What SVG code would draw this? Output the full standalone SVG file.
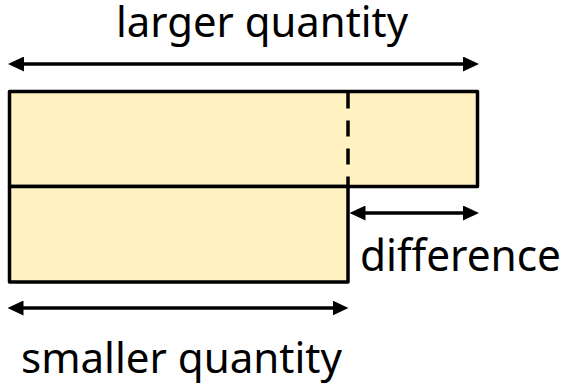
<svg xmlns="http://www.w3.org/2000/svg" width="577" height="384" viewBox="0 0 577 384">
  <defs>
    <marker id="ah" markerUnits="userSpaceOnUse" markerWidth="16" markerHeight="15" refX="8" refY="7.5" orient="auto-start-reverse" viewBox="0 0 16 15">
      <path d="M0,0 L16,7.5 L0,15 Z" fill="#000"/>
    </marker>
  </defs>
  <style>
    .bar { fill: #fff2c0; stroke: #000; stroke-width: 3.5; stroke-linejoin: round; }
    .arrow { stroke: #000; stroke-width: 3.5; fill: none; marker-start: url(#ah); marker-end: url(#ah); }
    .lbl { font-family: "Noto Sans", "Open Sans", sans-serif; font-size: 41px; fill: #000; }
  </style>
  <g id="larger-bar">
    <rect class="bar" x="9.5" y="91.5" width="468" height="95"/>
    <line x1="348" y1="92.5" x2="348" y2="186.5" stroke="#000" stroke-width="3.5" stroke-dasharray="16 12"/>
  </g>
  <g id="smaller-bar">
    <rect class="bar" x="9.5" y="186.5" width="338.5" height="95.5"/>
  </g>
  <g id="connectors">
    <line class="arrow" x1="16" y1="64" x2="471" y2="64"/>
    <line class="arrow" x1="357.5" y1="213" x2="471" y2="213"/>
    <line class="arrow" x1="15.5" y1="308" x2="340.5" y2="308"/>
  </g>
  <g id="labels">
    <text class="lbl" x="116" y="37" textLength="292" lengthAdjust="spacingAndGlyphs">larger quantity</text>
    <text class="lbl" x="360" y="271" style="font-size:44px" textLength="201" lengthAdjust="spacingAndGlyphs">difference</text>
    <text class="lbl" x="21" y="373" textLength="321" lengthAdjust="spacingAndGlyphs">smaller quantity</text>
  </g>
</svg>
